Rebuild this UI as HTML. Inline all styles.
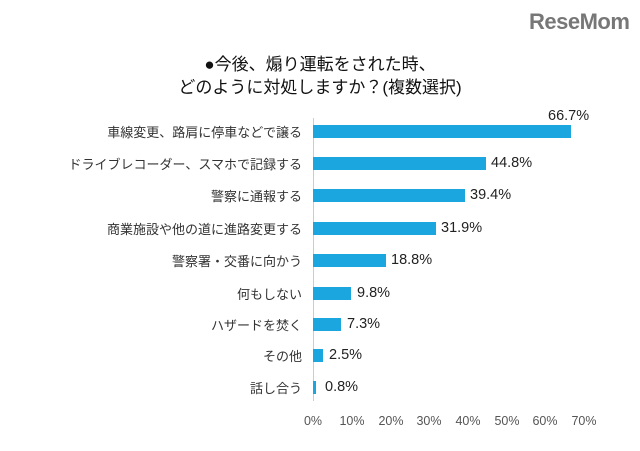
<!DOCTYPE html>
<html><head><meta charset="utf-8"><style>
body{margin:0;width:640px;height:451px;background:#fff;font-family:"Liberation Sans","Noto Sans CJK JP",sans-serif;position:relative;overflow:hidden}
.t{position:absolute;left:0;width:640px;text-align:center;font-size:17px;color:#111}
.l{position:absolute;right:338px;font-size:13px;color:#333;white-space:nowrap}
.b{position:absolute;left:313px;height:13px;background:#1ba6e0}
.v{position:absolute;font-size:14.5px;color:#222}
.x{position:absolute;top:414px;font-size:12.5px;color:#555;width:40px;text-align:center}
</style></head><body>
<div style="position:absolute;left:529px;top:9px;font-size:22px;font-weight:bold;color:#777;letter-spacing:-0.5px">ReseMom</div>
<div class="t" style="top:50px">●今後、煽り運転をされた時、</div>
<div class="t" style="top:73px">どのように対処しますか？(複数選択)</div>
<div style="position:absolute;left:313px;top:118px;width:1px;height:283px;background:#ccc"></div>
<div class="l" style="top:122px">車線変更、路肩に停車などで譲る</div><div class="b" style="top:125px;width:258px"></div><div class="v" style="left:548px;top:108px">66.7%</div>
<div class="l" style="top:154px">ドライブレコーダー、スマホで記録する</div><div class="b" style="top:157px;width:173px"></div><div class="v" style="left:491px;top:155px">44.8%</div>
<div class="l" style="top:186px">警察に通報する</div><div class="b" style="top:189px;width:152px"></div><div class="v" style="left:470px;top:187px">39.4%</div>
<div class="l" style="top:219px">商業施設や他の道に進路変更する</div><div class="b" style="top:222px;width:123px"></div><div class="v" style="left:441px;top:220px">31.9%</div>
<div class="l" style="top:251px">警察署・交番に向かう</div><div class="b" style="top:254px;width:73px"></div><div class="v" style="left:391px;top:252px">18.8%</div>
<div class="l" style="top:284px">何もしない</div><div class="b" style="top:287px;width:38px"></div><div class="v" style="left:357px;top:285px">9.8%</div>
<div class="l" style="top:315px">ハザードを焚く</div><div class="b" style="top:318px;width:28px"></div><div class="v" style="left:347px;top:316px">7.3%</div>
<div class="l" style="top:346px">その他</div><div class="b" style="top:349px;width:10px"></div><div class="v" style="left:329px;top:347px">2.5%</div>
<div class="l" style="top:378px">話し合う</div><div class="b" style="top:381px;width:3px"></div><div class="v" style="left:325px;top:379px">0.8%</div>
<div class="x" style="left:293px">0%</div><div class="x" style="left:332px">10%</div><div class="x" style="left:371px">20%</div><div class="x" style="left:409px">30%</div><div class="x" style="left:448px">40%</div><div class="x" style="left:487px">50%</div><div class="x" style="left:525px">60%</div><div class="x" style="left:564px">70%</div>
</body></html>
